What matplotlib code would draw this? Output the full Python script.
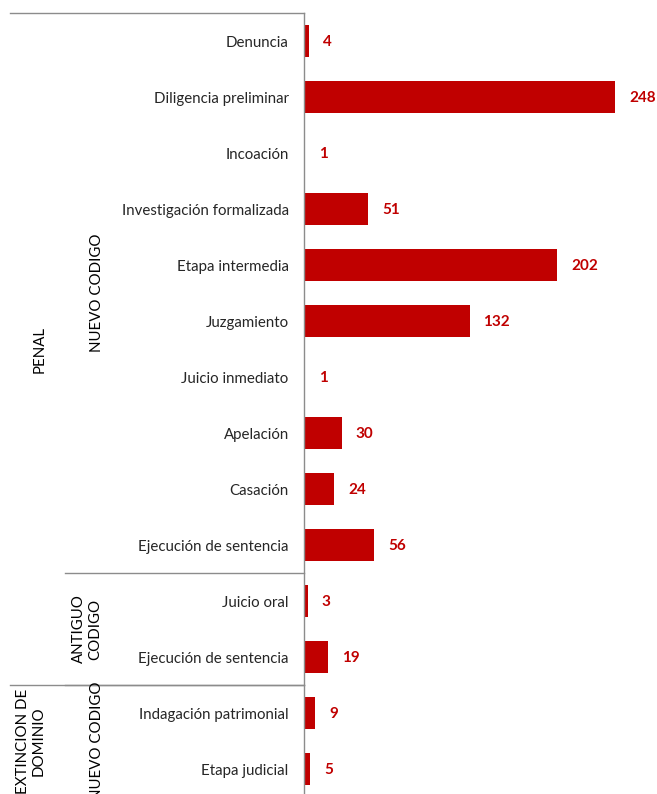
import matplotlib
matplotlib.use('Agg')
import matplotlib.pyplot as plt
from matplotlib.transforms import blended_transform_factory

# --- Datos ---
categorias = ['Denuncia', 'Diligencia preliminar', 'Incoación', 'Investigación formalizada',
              'Etapa intermedia', 'Juzgamiento', 'Juicio inmediato', 'Apelación', 'Casación',
              'Ejecución de sentencia', 'Juicio oral', 'Ejecución de sentencia',
              'Indagación patrimonial', 'Etapa judicial']
valores = [4, 248, 1, 51, 202, 132, 1, 30, 24, 56, 3, 19, 9, 5]
grupos_nivel2 = ['NUEVO CODIGO', 'ANTIGUO\nCODIGO', 'NUEVO CODIGO']
tam_nivel2 = [10, 2, 2]
grupos_nivel1 = ['PENAL', 'EXTINCION DE\nDOMINIO']
tam_nivel1 = [12, 2]

rojo = '#C00000'
gris = '#8C8C8C'
plt.rcParams['font.family'] = ['Lato', 'DejaVu Sans']

W, H = 657, 794
fig = plt.figure(figsize=(W / 100, H / 100), dpi=100)
ax = fig.add_axes([304 / W, -3 / H, (W - 304) / W, 784 / H])

y = list(range(len(categorias)))
ax.barh(y, valores, height=0.57, color=rojo)
ax.set_xlim(0, (W - 304) / 1.254)
ax.set_ylim(len(categorias) - 0.5, -0.5)

for yi, v in zip(y, valores):
    ax.annotate(str(v), (v, yi), xytext=(10, -1), textcoords='offset points',
                va='center', ha='left', color=rojo, fontweight='bold', fontsize=11)

ax.set_yticks(y)
ax.set_yticklabels(categorias, fontsize=10.8, color='#262626')
ax.tick_params(axis='y', length=0, pad=11)
ax.set_xticks([])
for s in ['top', 'right', 'bottom']:
    ax.spines[s].set_visible(False)
ax.spines['left'].set_color(gris)
ax.spines['left'].set_linewidth(1)

# --- Ejes de categorías en varios niveles ---
tr = blended_transform_factory(fig.transFigure, ax.transData)
ax.plot([10 / W, 304 / W], [-0.5, -0.5], transform=tr, color=gris, lw=1, clip_on=False)

inicio = -0.5
for nombre, n in zip(grupos_nivel2, tam_nivel2):
    centro = inicio + n / 2
    xpos = 87 / W if '\n' in nombre else 97 / W
    ax.text(xpos, centro, nombre, transform=tr, rotation=90, ha='center', va='center',
            fontsize=10.8, color='black', linespacing=1.15, clip_on=False)
    inicio += n
    if inicio < len(categorias) - 0.5:
        ax.plot([65 / W, 304 / W], [inicio, inicio], transform=tr, color=gris, lw=1, clip_on=False)

inicio = -0.5
for nombre, n in zip(grupos_nivel1, tam_nivel1):
    centro = inicio + n / 2
    xpos = 31 / W if '\n' in nombre else 40 / W
    ax.text(xpos, centro, nombre, transform=tr, rotation=90, ha='center', va='center',
            fontsize=10.8, color='black', linespacing=1.15, clip_on=False)
    inicio += n
    if inicio < len(categorias) - 0.5:
        ax.plot([10 / W, 304 / W], [inicio, inicio], transform=tr, color=gris, lw=1, clip_on=False)

fig.savefig('out.png', dpi=100)
